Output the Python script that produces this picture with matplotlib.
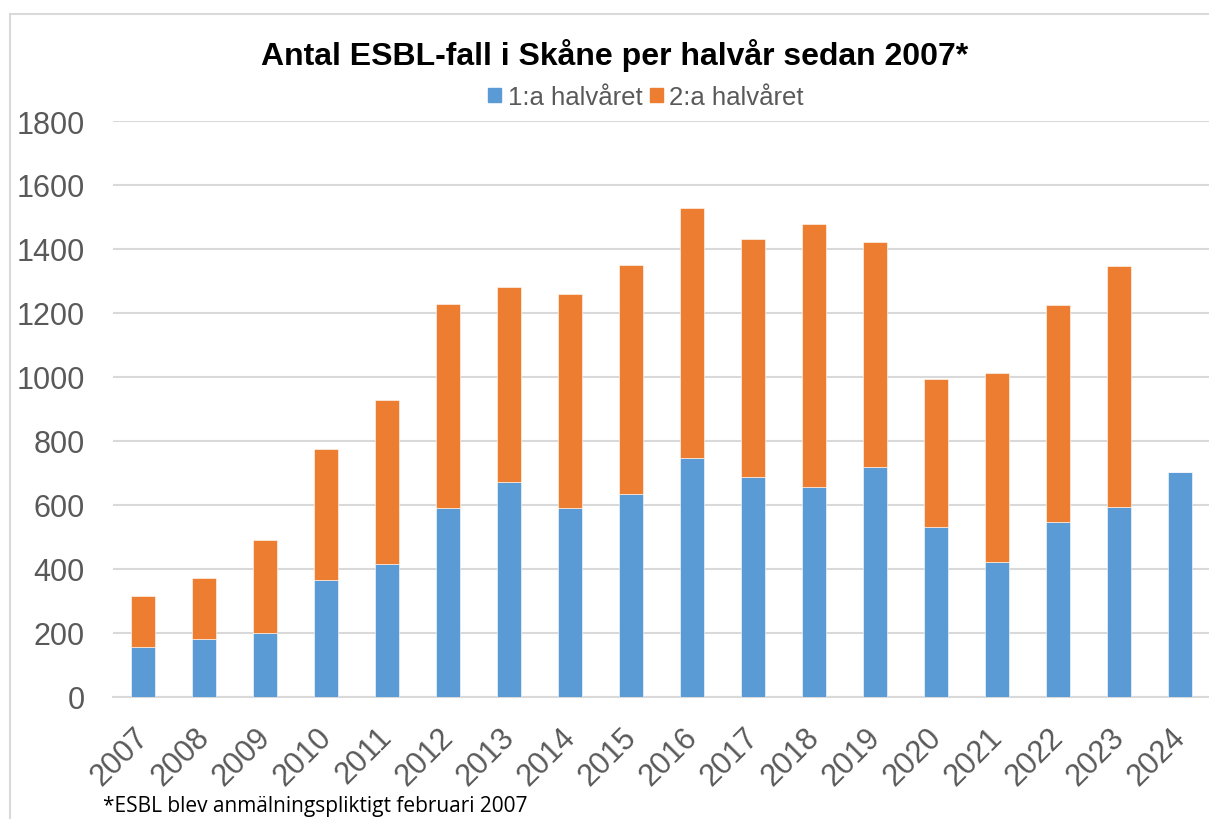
import numpy as np
import matplotlib
matplotlib.use('Agg')
import matplotlib.pyplot as plt
from matplotlib.patches import Patch, Rectangle
from matplotlib.transforms import ScaledTranslation

years = ['2007', '2008', '2009', '2010', '2011', '2012', '2013', '2014', '2015',
         '2016', '2017', '2018', '2019', '2020', '2021', '2022', '2023', '2024']
first_half = [154, 180, 200, 365, 414, 589, 672, 589, 633,
              745, 686, 657, 717, 532, 420, 547, 592, 703]
second_half = [161, 192, 289, 409, 514, 639, 610, 669, 718,
               782, 744, 822, 706, 461, 593, 677, 756, 0]

BLUE = '#5B9BD5'
ORANGE = '#ED7D31'
GRID = '#d9d9d9'
TXT = '#595959'

plt.rcParams['font.family'] = ['Liberation Sans', 'DejaVu Sans']

fig = plt.figure(figsize=(12.09, 8.2), dpi=100)
fig.patches.append(Rectangle((10 / 1209, -0.1), 1.2, 1.1 - 15 / 820,
                             transform=fig.transFigure, fill=False,
                             edgecolor=GRID, linewidth=1.5))

ax = fig.add_axes([112.5 / 1209, 1 - 697.7 / 820, 1098 / 1209, (697.7 - 122) / 820])
x = np.arange(len(years))
ax.bar(x, first_half, width=0.4, color=BLUE, edgecolor='white', linewidth=0.4,
       zorder=3)
ax.bar(x, second_half, width=0.4, bottom=first_half, color=ORANGE,
       edgecolor='white', linewidth=0.4, zorder=3)

ax.set_xlim(-0.5, len(years) - 0.5)
ax.set_ylim(0, 1800)
ax.set_yticks(range(0, 1801, 200))
ax.yaxis.grid(True, color=GRID, linewidth=1.5, zorder=0)
for s in ['top', 'right', 'left']:
    ax.spines[s].set_visible(False)
ax.spines['bottom'].set_color(GRID)
ax.spines['bottom'].set_linewidth(1.5)
ax.tick_params(axis='both', length=0, labelsize=22, labelcolor=TXT)
ax.tick_params(axis='y', pad=20)
ax.set_xticks(x)
ax.set_xticklabels(years, rotation=45, ha='right', rotation_mode='anchor')
ax.tick_params(axis='x', pad=18)
shift = ScaledTranslation(-0.1, 0, fig.dpi_scale_trans)
for lab in ax.get_xticklabels():
    lab.set_transform(lab.get_transform() + shift)

fig.text(615 / 1209, 1 - 55 / 820, 'Antal ESBL-fall i Skåne per halvår sedan 2007*',
         ha='center', va='center', fontsize=23, fontweight='bold', color='black')

handles = [Patch(color=BLUE, label='1:a halvåret'),
           Patch(color=ORANGE, label='2:a halvåret')]
leg = fig.legend(handles=handles, loc='center', bbox_to_anchor=(646 / 1209, 1 - 98 / 820),
                 ncol=2, frameon=False, fontsize=18.5, handlelength=0.5,
                 handleheight=0.5, handletextpad=0.25, columnspacing=0.3)
for t in leg.get_texts():
    t.set_color(TXT)

fig.text(103 / 1209, 1 - 796 / 820, '*ESBL blev anmälningspliktigt februari 2007',
         ha='left', va='top', fontsize=15, color='black', family=['Open Sans', 'DejaVu Sans'])

fig.savefig('out.png', dpi=100, facecolor='white')
